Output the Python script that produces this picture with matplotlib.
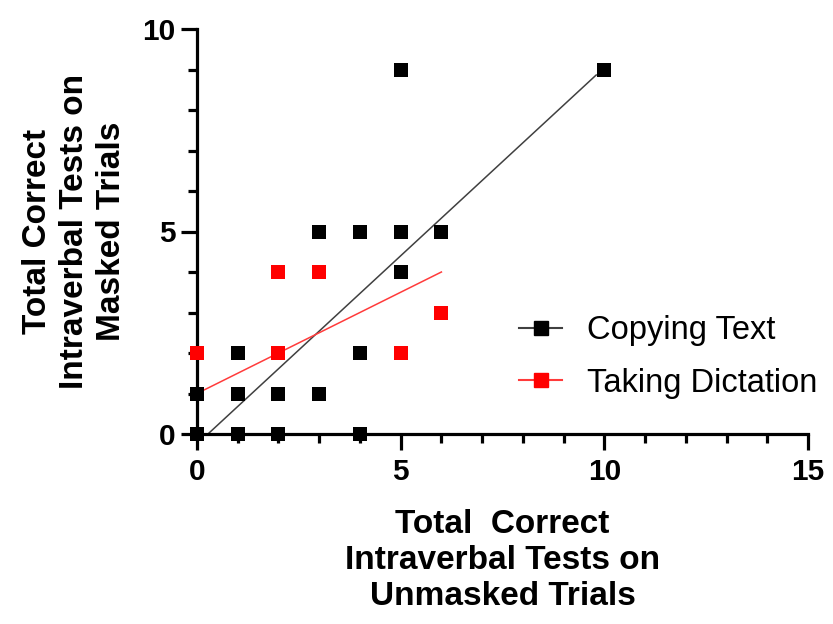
import matplotlib
matplotlib.use("Agg")
import matplotlib.pyplot as plt
from matplotlib.ticker import MultipleLocator
from matplotlib.lines import Line2D

plt.rcParams['font.family'] = ['Liberation Sans', 'DejaVu Sans']

# Data
copy_x = [0, 0, 1, 1, 1, 2, 2, 3, 3, 4, 4, 4, 5, 5, 5, 6, 10]
copy_y = [0, 1, 0, 1, 2, 0, 1, 1, 5, 5, 2, 0, 9, 5, 4, 5, 9]
dict_x = [0, 2, 3, 2, 5, 6]
dict_y = [2, 4, 4, 2, 2, 3]

# Fitted lines (slope, intercept, x range)
copy_fit = [0.93, -0.25]
copy_fit_range = [0.27, 9.8]
dict_fit = [0.5, 1.0]
dict_fit_range = [0.0, 6.0]

series_labels = ["Copying Text", "Taking Dictation"]
xticks_major = [0, 5, 10, 15]
yticks_major = [0, 5, 10]

fig = plt.figure(figsize=(8.33, 6.24), dpi=100)
ax = fig.add_axes([197/833, 1-434/624, (808-197)/833, (434-29)/624])

black_line = '#404040'
red_line = '#ff3b3b'

# fit lines
for fit, rng, col in [(copy_fit, copy_fit_range, black_line), (dict_fit, dict_fit_range, red_line)]:
    xs = list(rng)
    ys = [fit[0]*v + fit[1] for v in xs]
    ax.plot(xs, ys, color=col, lw=1.1, zorder=3, clip_on=False)

ax.plot(copy_x, copy_y, 's', color='black', ms=10, mew=0, zorder=5, clip_on=False)
ax.plot(dict_x, dict_y, 's', color='#ff0000', ms=10, mew=0, zorder=6, clip_on=False)

ax.set_xlim(0, 15)
ax.set_ylim(0, 10)
ax.set_xticks(xticks_major)
ax.set_yticks(yticks_major)
ax.xaxis.set_minor_locator(MultipleLocator(1))
ax.yaxis.set_minor_locator(MultipleLocator(1))

for s in ['top', 'right']:
    ax.spines[s].set_visible(False)
for s in ['left', 'bottom']:
    ax.spines[s].set_linewidth(2.3)
    ax.spines[s].set_zorder(4)

ax.tick_params(which='major', direction='out', length=11.5, width=2.3)
ax.tick_params(which='minor', direction='out', length=6.5, width=2.3)
ax.tick_params(axis='x', which='major', pad=6)
ax.tick_params(axis='y', which='major', pad=4)
for lab in ax.get_xticklabels() + ax.get_yticklabels():
    lab.set_fontsize(21.5)
    lab.set_fontweight('bold')

ax.set_xlabel("Total  Correct\nIntraverbal Tests on\nUnmasked Trials", fontsize=24,
              fontweight='bold', labelpad=16, linespacing=1.22)
ax.set_ylabel("Total Correct\nIntraverbal Tests on\nMasked Trials", fontsize=24,
              fontweight='bold', labelpad=11, linespacing=1.25)

handles = [Line2D([], [], color=black_line, lw=1.5, marker='s', mfc='black', mec='black', ms=10),
           Line2D([], [], color=red_line, lw=1.5, marker='s', mfc='#ff0000', mec='#ff0000', ms=10)]
fig.legend(handles, series_labels, loc='center left', bbox_to_anchor=(519/833, 1-357/624),
           frameon=False, fontsize=23.5, borderpad=0, borderaxespad=0, handlelength=1.33,
           handletextpad=0.75, labelspacing=0.65)

fig.savefig("out.png", dpi=100)
